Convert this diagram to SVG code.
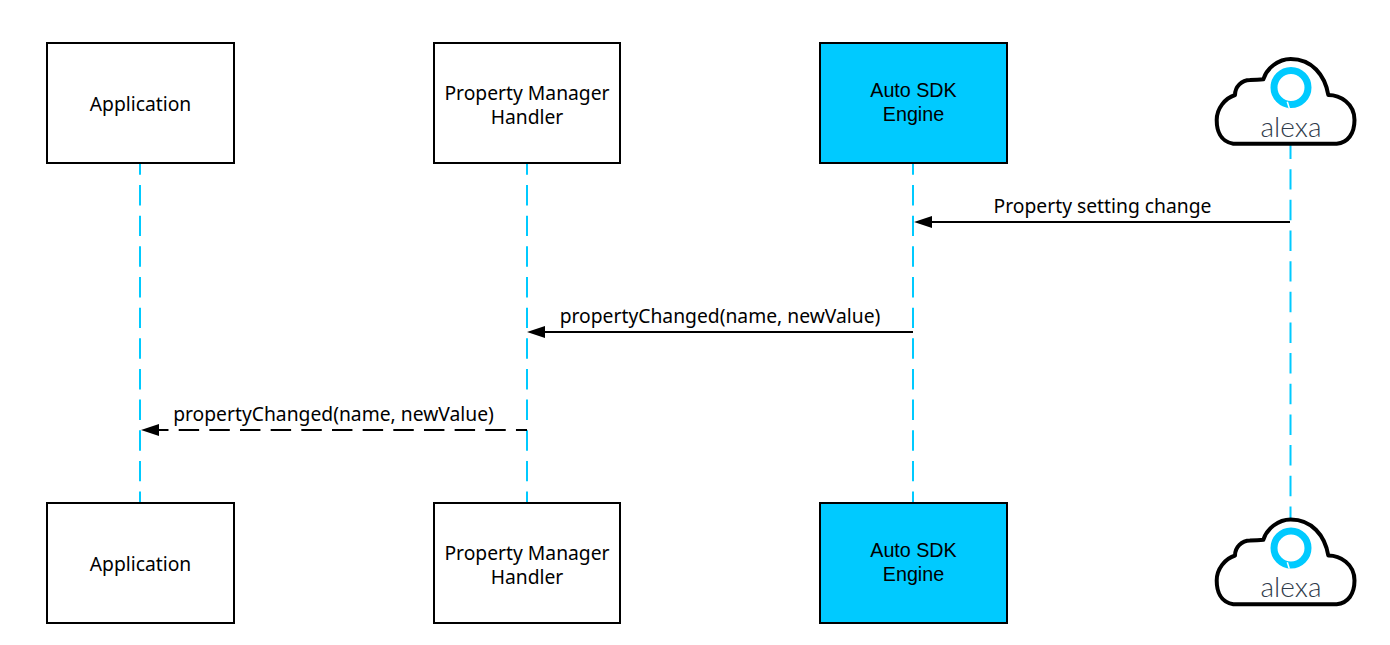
<svg xmlns="http://www.w3.org/2000/svg" width="1390" height="645" viewBox="0 0 1390 645">
<style>
.box{fill:#fff;stroke:#000;stroke-width:2}
.sdk{fill:#00caff}
.life{fill:none;stroke:#00caff;stroke-width:2;stroke-dasharray:20.44 10.22}
.msg{fill:none;stroke:#000;stroke-width:2}
.dash{stroke-dasharray:20.44 10.22;stroke-dashoffset:9.4}
text{font-family:"Noto Sans","Open Sans",sans-serif;font-size:19.3px;fill:#000;text-anchor:middle}
text.arial{font-family:"Liberation Sans",Arial,sans-serif;font-size:19.7px}
text.logo{font-family:Lato,"Open Sans",sans-serif;font-weight:300;font-size:28px;fill:#2f3b4b}
</style>
<defs>
<marker id="head" markerUnits="userSpaceOnUse" markerWidth="20" markerHeight="14" refX="0" refY="7" orient="auto"><path d="M0 1L18 7L0 13Z" fill="#000"/></marker>
<g id="cloud">
<path d="M1233.300 143.700C1220 141.700 1216.700 130 1216.700 120C1216.700 108.300 1225 98.300 1235 95C1235 86.700 1241.700 80 1250 80C1255 79.300 1259.300 80 1263.300 79.300C1266.700 68.300 1278.300 59 1290.700 59C1311.700 59 1325 75 1328.300 95C1340 95 1354.500 103.300 1354.500 120C1354.500 133.300 1348 142.700 1336.700 143.700Z" fill="#fff" stroke="#000" stroke-width="4" stroke-linejoin="round"/>
<circle cx="1291" cy="87.500" r="17" fill="none" stroke="#00caff" stroke-width="7"/>
<path d="M1287 102.500L1288.500 108.500L1291 107Z" fill="#00caff"/>
<line x1="1287.300" y1="101.700" x2="1289.300" y2="108.300" stroke="#fff" stroke-width="1.500"/>
<text class="logo" x="1291" y="136.700">alexa</text>
</g>
</defs>
<g id="connectors">
<line class="life" x1="140" y1="154.33" x2="140" y2="503"/>
<line class="life" x1="527" y1="154.33" x2="527" y2="503"/>
<line class="life" x1="913" y1="154.33" x2="913" y2="503"/>
<line class="life" x1="1290.500" y1="138.500" x2="1290.500" y2="520"/>
<line class="msg" x1="1290" y1="222" x2="932" y2="222" marker-end="url(#head)"/>
<line class="msg" x1="913" y1="332" x2="545" y2="332" marker-end="url(#head)"/>
<line class="msg dash" x1="527" y1="430" x2="159" y2="430" marker-end="url(#head)"/>
<text id="label-1" x="1102.500" y="213">Property setting change</text>
<text id="label-2" x="720" y="323">propertyChanged(name, newValue)</text>
<text id="label-3" x="333.500" y="421">propertyChanged(name, newValue)</text>
</g>
<g id="app-top"><rect class="box" x="47" y="43" width="187" height="120"/><text x="140.500" y="111">Application</text></g>
<g id="pmh-top"><rect class="box" x="434" y="43" width="186" height="120"/><text x="527" y="99.500">Property Manager</text><text x="527" y="123.500">Handler</text></g>
<g id="sdk-top"><rect class="box sdk" x="820" y="43" width="187" height="120"/><text class="arial" x="913.500" y="96.500">Auto SDK</text><text class="arial" x="913.500" y="120.500">Engine</text></g>
<g id="alexa-top"><use href="#cloud"/></g>
<g id="app-bottom"><rect class="box" x="47" y="503" width="187" height="120"/><text x="140.500" y="571">Application</text></g>
<g id="pmh-bottom"><rect class="box" x="434" y="503" width="186" height="120"/><text x="527" y="559.500">Property Manager</text><text x="527" y="583.500">Handler</text></g>
<g id="sdk-bottom"><rect class="box sdk" x="820" y="503" width="187" height="120"/><text class="arial" x="913.500" y="556.500">Auto SDK</text><text class="arial" x="913.500" y="580.500">Engine</text></g>
<g id="alexa-bottom"><use href="#cloud" y="460.500"/></g>
</svg>
